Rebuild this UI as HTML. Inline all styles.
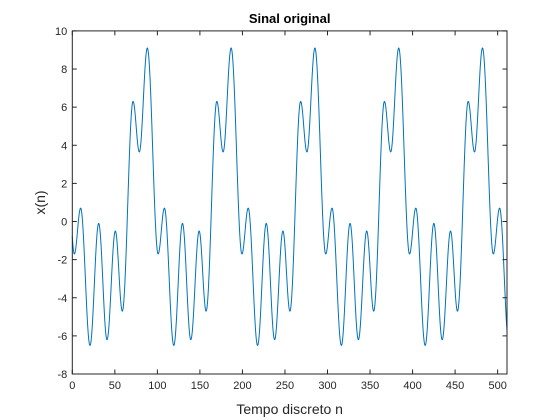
<!DOCTYPE html>
<html><head><meta charset="utf-8"><style>
body{margin:0;background:#fff;}
svg{display:block;font-family:"Liberation Sans",Arial,sans-serif;}
</style></head><body>
<svg id="chart" width="560" height="420" viewBox="0 0 560 420">
<rect width="560" height="420" fill="#fff"/>
<g id="plot"></g>
</svg>
<script>
// one period of the signal: positions of local extrema (sample index) and values
const extremaN = [2.4, 9.8, 20.8, 31, 40.8, 50.6, 58.8, 71.4, 78.8, 88.2];
const extremaV = [-1.7, 0.7, -6.5, -0.1, -6.2, -0.5, -4.7, 6.3, 3.65, 9.1];
const period = 98.5;
const xTicks = [0, 50, 100, 150, 200, 250, 300, 350, 400, 450, 500];
const yTicks = [-8, -6, -4, -2, 0, 2, 4, 6, 8, 10];
const xMin = 0, xMax = 511, yMin = -8, yMax = 10;

const L = 72.3, R = 507, T = 30.9, B = 374;
const sx = n => L + (n - xMin) / (xMax - xMin) * (R - L);
const sy = v => B - (v - yMin) / (yMax - yMin) * (B - T);
const NS = 'http://www.w3.org/2000/svg';
const g = document.getElementById('plot');
function mk(tag, attrs, parent) {
  const e = document.createElementNS(NS, tag);
  for (const k in attrs) e.setAttribute(k, attrs[k]);
  (parent || g).appendChild(e);
  return e;
}
// build extrema list over full range
const pts = [];
for (let k = -1; k <= 6; k++) {
  for (let i = 0; i < extremaN.length; i++) pts.push([extremaN[i] + k * period, extremaV[i]]);
}
pts.sort((a, b) => a[0] - b[0]);
function val(n) {
  for (let i = 0; i < pts.length - 1; i++) {
    if (n >= pts[i][0] && n <= pts[i + 1][0]) {
      const t = (n - pts[i][0]) / (pts[i + 1][0] - pts[i][0]);
      const w = (1 - Math.cos(Math.PI * t)) / 2;
      return pts[i][1] + (pts[i + 1][1] - pts[i][1]) * w;
    }
  }
  return 0;
}
let d = '';
for (let n = xMin; n <= xMax; n += 0.25) {
  d += (n === xMin ? 'M' : 'L') + sx(n).toFixed(2) + ',' + sy(val(n)).toFixed(2);
}
const line = mk('path', {d: d, fill: 'none', stroke: '#0072BD', 'stroke-width': 1});



// axes box
const box = mk('rect', {x: L, y: T, width: R - L, height: B - T, fill: 'none', stroke: '#262626', 'stroke-width': 1});



xTicks.forEach(t => {
  const x = sx(t);
  mk('line', {x1: x, x2: x, y1: B, y2: B - 4.5, stroke: '#262626'});
  mk('line', {x1: x, x2: x, y1: T, y2: T + 4.5, stroke: '#262626'});
  const lb = mk('text', {x: x, y: B + 15, 'text-anchor': 'middle', 'font-size': 11, fill: '#262626'});
  lb.textContent = t;
  
  
});
yTicks.forEach(t => {
  const y = sy(t);
  mk('line', {x1: L, x2: L + 4.5, y1: y, y2: y, stroke: '#262626'});
  mk('line', {x1: R, x2: R - 4.5, y1: y, y2: y, stroke: '#262626'});
  const lb = mk('text', {x: L - 5, y: y + 4, 'text-anchor': 'end', 'font-size': 11, fill: '#262626'});
  lb.textContent = t;
  
  
});
const title = mk('text', {x: (L + R) / 2, y: 23, 'text-anchor': 'middle', 'font-size': 13, 'font-weight': 'bold', fill: '#000'});
title.textContent = 'Sinal original';


const xl = mk('text', {x: (L + R) / 2, y: 414, 'text-anchor': 'middle', 'font-size': 14, fill: '#262626'});
xl.textContent = 'Tempo discreto n';


const yl = mk('text', {x: 0, y: 0, 'text-anchor': 'middle', 'font-size': 14, fill: '#262626', transform: 'translate(45,' + ((T + B) / 2) + ') rotate(-90)'});
yl.textContent = 'x(n)';


</script>
</body></html>
